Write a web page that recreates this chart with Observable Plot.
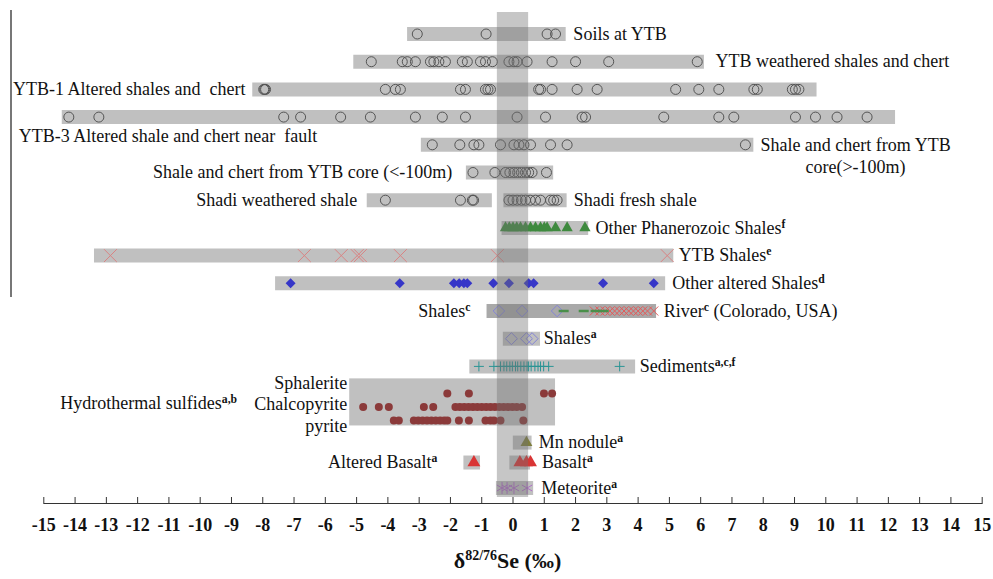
<!DOCTYPE html>
<html><head><meta charset="utf-8">
<script src="https://cdn.jsdelivr.net/npm/d3@7"></script>
<script src="https://cdn.jsdelivr.net/npm/@observablehq/plot@0.6"></script>
<style>
body{margin:0;background:#fff;}
#wrap{position:relative;width:993px;height:579px;overflow:hidden;}
#leftline{position:absolute;left:10px;top:10px;width:2px;height:287px;background:#777;}
#title{position:absolute;left:22px;right:0;top:548px;text-align:center;font:bold 22px "Liberation Serif","Times New Roman",serif;color:#111;}
#title sup{font-size:14px;}
svg text{white-space:pre;}
</style></head><body>
<div id="wrap"><div id="chart"></div><div id="leftline"></div><div id="title">δ<sup>82/76</sup>Se (‰)</div></div>
<script>
// ---------- rows (vertical order) ----------
const rowNames = ["Soils at YTB","YTB weathered","YTB-1","YTB-3","Core >-100m","Core <-100m","Shadi","Phanerozoic","YTB Shales","Other altered","Shales c / River","Shales a","Sediments","Sphalerite","Chalcopyrite","Pyrite","Mn nodule","Basalt","Meteorite"];
const rowSlots = [0,1,2,3,4,5,6,7,8,9,10,11,12,12.98,13.47,13.95,14.75,15.47,16.39];
const slot = name => rowSlots[rowNames.indexOf(name)];

// ---------- range bars ----------
const barRows = ["Soils at YTB","YTB weathered","YTB-1","YTB-3","Core >-100m","Core <-100m","Shadi","Shadi","Phanerozoic","YTB Shales","Other altered","Shales a","Sediments","Mn nodule","Basalt","Basalt","Meteorite"];
const barLow  = [-3.37,-5.09,-8.32,-14.41,-2.93,-1.49,-4.66,-0.29,-0.35,-13.38,-7.59,-0.31,-1.38,0.01,-0.10,-1.57,-0.53];
const barHigh = [1.70,6.12,9.72,12.23,7.70,1.30,-0.66,1.73,2.42,5.14,4.88,0.88,3.92,0.61,0.56,-1.04,0.66];
const riverBar = [-0.83, 4.59];
const sulfideBox = [-5.22, 1.36];
const sulfideBoxSlots = [12.45, 14.15];
const zeroBand = [-0.5, 0.5];

// ---------- measured values (δ82/76Se, ‰) ----------
const soils = [-3.06,-0.86,1.09,1.36];
const ytbWeathered = [-4.53,-3.54,-3.38,-3.12,-2.64,-2.53,-2.37,-2.16,-1.62,-1.46,-1.04,-0.88,-0.66,-0.13,0.03,0.13,0.45,1.25,2.0,3.06,5.89];
const ytb1 = [-7.97,-7.94,-7.91,-4.08,-3.76,-3.6,-1.68,-1.52,-0.88,-0.8,-0.72,0.82,0.88,1.25,2.05,2.69,5.2,5.94,6.58,7.70,7.81,8.93,9.03,9.14];
const ytb3 = [-14.2,-13.24,-7.33,-6.79,-5.51,-4.56,-3.12,-2.26,-1.52,0.13,1.04,2.21,2.32,4.82,6.58,7.06,9.03,9.67,10.36,11.32];
const coreShallow = [-2.58,-1.70,-1.25,-1.09,-0.40,0.03,0.19,0.35,0.56,1.2,1.73,7.43];
const coreDeep = [-1.28,-0.58,-0.24,-0.1,0.03,0.15,0.27,0.4,0.5,0.61,1.07];
const shadiWeathered = [-4.08,-1.68,-1.3,-1.26];
const shadiFresh = [-0.13,0.0,0.13,0.27,0.4,0.55,0.72,0.88,1.2,1.3,1.41];
const phanerozoic = [-0.24,-0.12,0.0,0.12,0.24,0.4,0.56,0.72,0.88,1.0,1.09,1.36,1.73,2.3];
const ytbShales = [-12.87,-6.67,-5.49,-4.98,-4.88,-3.6,-0.5,4.93];
const otherAltered = [-7.11,-3.62,-1.89,-1.72,-1.57,-1.46,-0.63,-0.13,0.5,0.66,2.88,4.5];
const shalesC = [-0.45,0.29,1.41];
const riverDash = [1.62,2.26,2.64,2.9];
const riverCross = [2.6,2.78,2.95,3.1,3.25,3.4,3.55,3.7,3.85,4.0,4.15,4.3,4.5];
const shalesA = [-0.05,0.43,0.61];
const sediments = [-1.09,-0.61,-0.4,-0.29,-0.2,-0.1,-0.02,0.08,0.15,0.25,0.35,0.45,0.5,0.58,0.7,0.8,0.88,0.98,1.14,3.41];
const sphalerite = [-2.1,-1.41,0.99,1.25];
const chalcopyrite = [-4.79,-4.29,-3.97,-2.85,-2.55,-1.84,-1.7,-1.56,-1.42,-1.28,-1.14,-1.0,-0.86,-0.72,-0.58,-0.44,-0.3,-0.16,-0.02,0.12,0.29];
const pyrite = [-3.81,-3.65,-3.17,-3.03,-2.89,-2.75,-2.61,-2.47,-2.33,-2.2,-2.1,-1.73,-1.41,-0.88,-0.72,-0.61,-0.4,0.33];
const mnNodule = [0.43];
const basalt = [0.22,0.43,0.56];
const alteredBasalt = [-1.25];
const meteorite = [-0.35,-0.19,0.03,0.45];

// ---------- labels ----------
const rightText = ["Soils at YTB","YTB weathered shales and chert","Shadi fresh shale","Other Phanerozoic Shales{f}","YTB Shales{e}","Other altered Shales{d}","River{c} (Colorado, USA)","Shales{a}","Sediments{a,c,f}","Mn nodule{a}","Basalt{a}","Meteorite{a}"];
const rightX    = [1.93,6.47,1.94,2.64,5.30,5.09,4.82,0.98,4.05,0.82,0.93,0.90];
const rightRow  = ["Soils at YTB","YTB weathered","Shadi","Phanerozoic","YTB Shales","Other altered","Shales c / River","Shales a","Sediments","Mn nodule","Basalt","Meteorite"];
const leftText  = ["YTB-1 Altered shales and  chert","YTB-3 Altered shale and chert near  fault","Shale and chert from YTB core (<-100m)","Shadi weathered shale","Shales{c}","Hydrothermal sulfides{a,b}","Altered Basalt{a}"];
const leftX     = [-8.55,-6.26,-1.94,-4.98,-1.36,-8.82,-2.42];
const leftSlot  = [2,3.70,5,6,10,13.34,15.47];
const mineralText = ["Sphalerite\nChalcopyrite\npyrite"];
const mineralX = [-5.30];
const mineralSlot = [13.34];
const centerText = ["Shale and chert from YTB\ncore(>-100m)"];
const centerX = [10.95];
const centerSlot = [4.37];

const xTicks = [-15,-14,-13,-12,-11,-10,-9,-8,-7,-6,-5,-4,-3,-2,-1,0,1,2,3,4,5,6,7,8,9,10,11,12,13,14,15];

// ---------- tables ----------
const pts = (vals, row) => vals.map(x => ({x, y: slot(row)}));
const bars = barRows.map((r, i) => ({y: slot(r), x1: barLow[i], x2: barHigh[i]}));
const circles = [...pts(soils,"Soils at YTB"),...pts(ytbWeathered,"YTB weathered"),...pts(ytb1,"YTB-1"),...pts(ytb3,"YTB-3"),...pts(coreShallow,"Core >-100m"),...pts(coreDeep,"Core <-100m"),...pts(shadiWeathered,"Shadi"),...pts(shadiFresh,"Shadi")];
const sulfides = [...pts(sphalerite,"Sphalerite"),...pts(chalcopyrite,"Chalcopyrite"),...pts(pyrite,"Pyrite")];
const dash = {draw(ctx, size){ const w = Math.sqrt(size) * 0.6; ctx.moveTo(-w, 0); ctx.lineTo(w, 0); }};
const W = 993, H = 545, mT = 12, mB = 42;

const svg = Plot.plot({
  width: W, height: H,
  marginLeft: 43.3, marginRight: 11.3, marginTop: mT, marginBottom: mB,
  style: {fontFamily: "'Liberation Serif','Times New Roman',serif", fontSize: "18px", color: "#111", background: "#fff"},
  x: {domain: [-15, 15]},
  y: {domain: [0, 17], range: [33.5, 33.5 + 17 * 27.7], axis: null},
  marks: [
    Plot.ruleY(bars, {y: "y", x1: "x1", x2: "x2", stroke: "#c0c0c0", strokeWidth: 14}),
    Plot.ruleY([0], {y: () => slot("Shales c / River"), x1: () => riverBar[0], x2: () => riverBar[1], stroke: "#a9a9a9", strokeWidth: 14}),
    Plot.rect([0], {x1: () => sulfideBox[0], x2: () => sulfideBox[1], y1: () => sulfideBoxSlots[0], y2: () => sulfideBoxSlots[1], fill: "#c0c0c0"}),
    Plot.dot(circles, {x: "x", y: "y", r: 5, fill: "none", stroke: "#555", strokeWidth: 1}),
    Plot.dot(pts(phanerozoic,"Phanerozoic"), {x: "x", y: "y", symbol: "triangle", r: 4.2, fill: "#3f8a3f"}),
    Plot.dot(pts(ytbShales,"YTB Shales"), {x: "x", y: "y", symbol: "times", r: 5.9, stroke: "#d98484", strokeWidth: 1}),
    Plot.dot(pts(otherAltered,"Other altered"), {x: "x", y: "y", symbol: "diamond2", r: 4.5, fill: "#3636c8"}),
    Plot.dot(pts(shalesC,"Shales c / River"), {x: "x", y: "y", symbol: "diamond2", r: 5.2, fill: "none", stroke: "#8484d6", strokeWidth: 1}),
    Plot.dot(pts(riverCross,"Shales c / River"), {x: "x", y: "y", symbol: "times", r: 4.2, stroke: "#e35a5a", strokeWidth: 1}),
    Plot.dot(pts(riverDash,"Shales c / River"), {x: "x", y: "y", symbol: dash, r: 4.7, fill: "none", stroke: "#4a8f4a", strokeWidth: 2.5}),
    Plot.dot(pts(shalesA,"Shales a"), {x: "x", y: "y", symbol: "diamond2", r: 5.4, fill: "none", stroke: "#8484d6", strokeWidth: 1}),
    Plot.dot(pts(sediments,"Sediments"), {x: "x", y: "y", symbol: "plus", r: 3.3, stroke: "#2a9494", strokeWidth: 1}),
    Plot.dot(sulfides, {x: "x", y: "y", r: 4, fill: "#8b3a3a"}),
    Plot.dot(pts(mnNodule,"Mn nodule"), {x: "x", y: "y", symbol: "triangle", r: 4.4, fill: "#7d7d3c"}),
    Plot.dot(pts(basalt,"Basalt"), {x: "x", y: "y", symbol: "triangle", r: 4.8, fill: "#d93535"}),
    Plot.dot(pts(alteredBasalt,"Basalt"), {x: "x", y: "y", symbol: "triangle", r: 4.8, fill: "#d93535"}),
    Plot.dot(pts(meteorite,"Meteorite"), {x: "x", y: "y", symbol: "asterisk", r: 5.7, stroke: "#b070c8", strokeWidth: 1}),
    // vertical zero band on top
    Plot.rect([0], {x1: () => zeroBand[0], x2: () => zeroBand[1], fill: "#707070", fillOpacity: 0.4, insetBottom: 6}),
    // labels
    Plot.text(rightText, {x: (d, i) => rightX[i], y: (d, i) => slot(rightRow[i]), text: d => d, textAnchor: "start", lineAnchor: "middle", fill: "#111"}),
    Plot.text(leftText, {x: (d, i) => leftX[i], y: (d, i) => leftSlot[i], text: d => d, textAnchor: "end", lineAnchor: "middle", fill: "#111"}),
    Plot.text(mineralText, {x: (d, i) => mineralX[i], y: (d, i) => mineralSlot[i], text: d => d, textAnchor: "end", lineAnchor: "middle", lineHeight: 1.2, fill: "#111"}),
    Plot.text(centerText, {x: (d, i) => centerX[i], y: (d, i) => centerSlot[i], text: d => d, textAnchor: "middle", lineAnchor: "middle", lineHeight: 1.2, fill: "#111"}),
    // axis
    Plot.frame({anchor: "bottom", stroke: "#333"}),
    Plot.tickX(xTicks, {x: d => d, stroke: "#333", insetTop: (H - mT - mB) - 6}),
    Plot.axisX(xTicks, {tickSize: 0, tickPadding: 15, tickFormat: d => String(d), fontWeight: "bold", fill: "#111", fontSize: 18})
  ]
});

// superscripts: "{...}" -> raised tspan
const NS = "http://www.w3.org/2000/svg";
svg.querySelectorAll("text").forEach(t => {
  if (t.children.length || !t.textContent.includes("{")) return;
  const s = t.textContent; t.textContent = "";
  s.split(/(\{[^}]*\})/).forEach(part => {
    if (!part) return;
    const ts = document.createElementNS(NS, "tspan");
    if (part.startsWith("{")) {
      ts.textContent = part.slice(1, -1);
      ts.setAttribute("baseline-shift", "super");
      ts.setAttribute("font-size", "0.65em");
      ts.setAttribute("font-weight", "bold");
    } else ts.textContent = part;
    t.appendChild(ts);
  });
});
document.getElementById("chart").appendChild(svg);
</script>
</body></html>
